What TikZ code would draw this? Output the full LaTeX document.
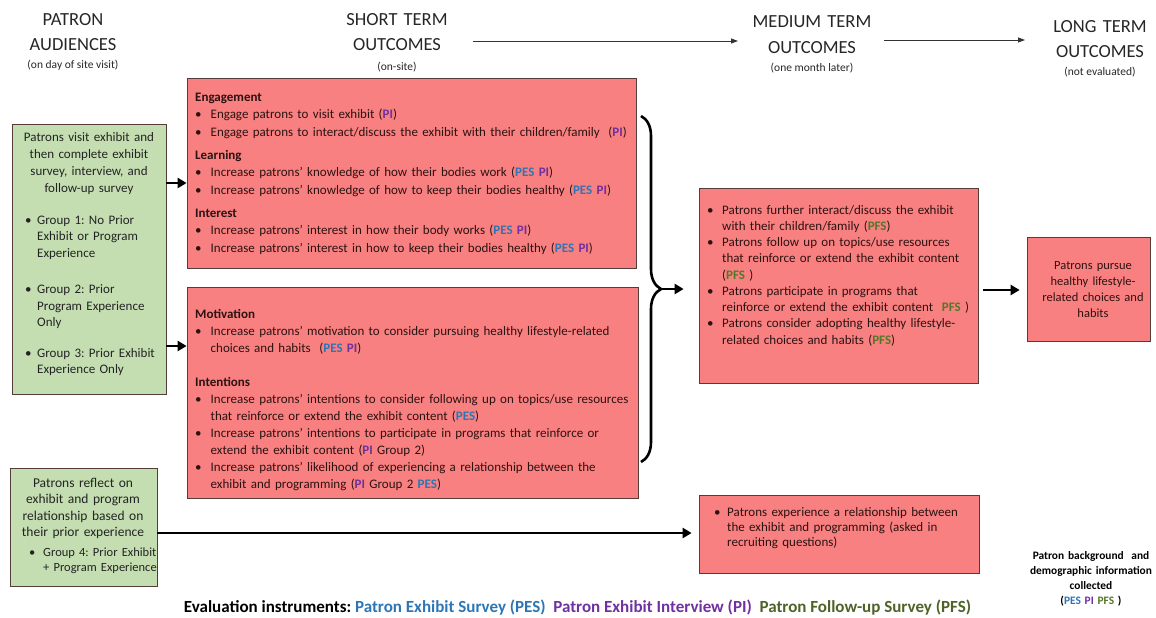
\documentclass[tikz,border=0pt]{standalone}
\usepackage{fontspec}
\setmainfont{Carlito}
\usetikzlibrary{arrows.meta,decorations.pathreplacing}
\definecolor{redfill}{RGB}{248,128,128}
\definecolor{greenfill}{RGB}{196,222,178}
\definecolor{boxline}{RGB}{85,60,60}
\definecolor{redtext}{RGB}{45,18,18}
\definecolor{greentext}{RGB}{35,35,35}
\definecolor{pescol}{RGB}{46,117,182}
\definecolor{picol}{RGB}{112,48,160}
\definecolor{pfscol}{RGB}{84,120,40}
\definecolor{pfsdark}{RGB}{79,98,40}
\newcommand{\cPES}{\textbf{\textcolor{pescol}{PES}}}
\newcommand{\cPI}{\textbf{\textcolor{picol}{PI}}}
\newcommand{\cPFS}{\textbf{\textcolor{pfscol}{PFS}}}
\newcommand{\bul}[1][15.5pt]{\noindent\hangindent=#1\hangafter=1\makebox[#1][l]{\textbullet}}
\newcommand{\hd}[1]{\noindent\textbf{#1}\par}
\frenchspacing
\begin{document}
\begin{tikzpicture}[x=1pt,y=-1pt,
  box/.style={draw=boxline, line width=0.75pt, inner sep=0pt},
  redbox/.style={box, fill=redfill},
  greenbox/.style={box, fill=greenfill},
  txt/.style={inner sep=0pt, text width=700pt, align=left, anchor=base west, text=redtext, font=\fontsize{13}{17.5}\selectfont},
  ctxt/.style={inner sep=0pt, text width=#1, align=center, anchor=base, font=\fontsize{13}{17}\selectfont},
  head/.style={inner sep=0pt, text width=200pt, align=center, anchor=base, font=\fontsize{18.5}{25}\selectfont, text=black!85},
  sub/.style={inner sep=0pt, anchor=base, font=\fontsize{11.5}{13}\selectfont, text=black!85},
  thickarr/.style={line width=2.6pt, -{Triangle[length=9pt,width=10pt]}},
  thinarr/.style={line width=0.8pt, black!80, -{Triangle[length=7pt,width=5pt]}}]
\path[use as bounding box] (0,0) rectangle (1156,618);

% headings
\node[head] (hpa) at (73,26) {PATRON\\AUDIENCES};
\node[sub] at (73,68.5) {(on day of site visit)};
\node[head] (hst) at (397,26) {SHORT TERM\\OUTCOMES};
\node[sub] at (397,70.5) {(on-site)};
\node[head] (hmt) at (812,28) {MEDIUM TERM\\OUTCOMES};
\node[sub] at (812,71.5) {(one month later)};
\node[head] (hlt) at (1100,33) {LONG TERM\\OUTCOMES};
\node[sub] at (1100,75.5) {(not evaluated)};

% boxes
\node[greenbox, minimum width=154pt, minimum height=270pt] (g1) at (89,259) {};
\node[greenbox, minimum width=147pt, minimum height=118pt] (g2) at (83.5,527) {};
\node[redbox, minimum width=449pt, minimum height=190pt] (r1) at (411.5,173) {};
\node[redbox, minimum width=451pt, minimum height=211pt] (r2) at (412.5,392.5) {};
\node[redbox, minimum width=279pt, minimum height=195pt] (m1) at (838.5,285.5) {};
\node[redbox, minimum width=280pt, minimum height=78pt] (m2) at (839,534) {};
\node[redbox, minimum width=123pt, minimum height=104pt] (l1) at (1088.5,289) {};

% green 1 text
\node[ctxt=150pt, text=greentext] at (89,141) {Patrons visit exhibit and\\then complete exhibit\\survey, interview, and\\follow-up survey};
\node[txt, text=greentext, font=\fontsize{13}{16.5}\selectfont] at (25,224) {%
\bul[12pt]Group 1: No Prior\newline Exhibit or Program\newline Experience\par\vspace{20pt}%
\bul[12pt]Group 2: Prior\newline Program Experience\newline Only\par\vspace{14pt}%
\bul[12pt]Group 3: Prior Exhibit\newline Experience Only\par};

% green 2 text
\node[ctxt=145pt, text=greentext, font=\fontsize{13.5}{16.5}\selectfont] at (83,487) {Patrons reflect on\\exhibit and program\\relationship based on\\their prior experience};
\node[txt, text=greentext, font=\fontsize{12.5}{15.5}\selectfont] at (29,556) {%
\bul[14pt]Group 4: Prior Exhibit\newline + Program Experience\par};

% red 1 text
\node[txt] at (195,101) {%
\hd{Engagement}%
\bul Engage patrons to visit exhibit (\cPI)\par
\bul Engage patrons to interact/discuss the exhibit with their children/family\ \ (\cPI)\par\vspace{5.5pt}%
\hd{Learning}%
\bul Increase patrons’ knowledge of how their bodies work (\cPES\ \cPI)\par
\bul Increase patrons’ knowledge of how to keep their bodies healthy (\cPES\ \cPI)\par\vspace{5.5pt}%
\hd{Interest}%
\bul Increase patrons’ interest in how their body works (\cPES\ \cPI)\par
\bul Increase patrons’ interest in how to keep their bodies healthy (\cPES\ \cPI)\par};

% red 2 text
\node[txt, font=\fontsize{13}{17}\selectfont] at (195,318) {%
\hd{Motivation}%
\bul Increase patrons’ motivation to consider pursuing healthy lifestyle-related\newline choices and habits\ \ (\cPES\ \cPI)\par\vspace{17pt}%
\hd{Intentions}%
\bul Increase patrons’ intentions to consider following up on topics/use resources\newline that reinforce or extend the exhibit content (\cPES)\par
\bul Increase patrons’ intentions to participate in programs that reinforce or\newline extend the exhibit content (\cPI\ Group 2)\par
\bul Increase patrons’ likelihood of experiencing a relationship between the\newline exhibit and programming (\cPI\ Group 2 \cPES)\par};

% medium text
\node[txt, font=\fontsize{13}{16.25}\selectfont] at (707,214) {%
\bul[15pt]Patrons further interact/discuss the exhibit\newline with their children/family (\cPFS)\par
\bul[15pt]Patrons follow up on topics/use resources\newline that reinforce or extend the exhibit content\newline (\cPFS\ )\par
\bul[15pt]Patrons participate in programs that\newline reinforce or extend the exhibit content\ \ \cPFS\ )\par
\bul[15pt]Patrons consider adopting healthy lifestyle-\newline related choices and habits (\cPFS)\par};

% bottom red text
\node[txt, font=\fontsize{13}{15}\selectfont] at (714,516) {%
\bul[13pt]Patrons experience a relationship between\newline the exhibit and programming (asked in\newline recruiting questions)\par};

% long text
\node[ctxt=120pt, text=redtext, font=\fontsize{12.5}{16}\selectfont] at (1093,269) {Patrons pursue\\healthy lifestyle-\\related choices and\\habits};

% background note
\node[ctxt=140pt, text=black, font=\bfseries\fontsize{11.4}{15}\selectfont] at (1091,559) {Patron background\ \ and\\demographic information\\collected\\(\textcolor{pescol}{PES} \textcolor{picol}{PI} \textcolor{pfscol}{PFS} )};

% legend
\node[inner sep=0pt, anchor=base, font=\bfseries\fontsize{17}{20}\selectfont] at (577.5,612) {Evaluation instruments: \textcolor{pescol}{Patron Exhibit Survey (PES)}\ \ \textcolor{picol}{Patron Exhibit Interview (PI)}\ \ \textcolor{pfsdark}{Patron Follow-up Survey (PFS)}};

% header arrows
\draw[thinarr, shorten <=76pt, shorten >=74pt] (hst |- 0,41) -- (hmt |- 0,41);
\draw[thinarr, shorten <=72pt, shorten >=75pt] (hmt |- 0,40) -- (hlt |- 0,40);

% connectors
\draw[thickarr] (g1.east |- 0,183) -- (r1.west |- 0,183);
\draw[thickarr] (g1.east |- 0,346) -- (r2.west |- 0,346);
\draw[line width=2.6pt, decorate, decoration={brace, amplitude=20pt}] (641,116) -- (641,462);
\coordinate (bt) at (661,289);
\draw[thickarr, shorten >=15pt] (bt) -- (m1.west |- bt);
\draw[thickarr, shorten <=5pt, shorten >=7pt] (m1.east |- 0,290) -- (l1.west |- 0,290);
\draw[thickarr, shorten >=7pt] (g2.east |- 0,533) -- (m2.west |- 0,533);
\end{tikzpicture}
\end{document}
